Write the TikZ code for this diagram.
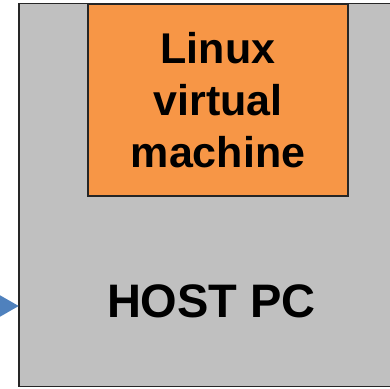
\documentclass[tikz,border=0pt]{standalone}
\usepackage{fontspec}
\setmainfont{Liberation Sans}
\usetikzlibrary{arrows.meta}
\definecolor{hostgray}{RGB}{192,192,192}
\definecolor{vmorange}{RGB}{247,150,70}
\definecolor{arrowblue}{RGB}{79,129,189}
\tikzset{
  box/.style={draw=black!85, line width=1.6pt, inner sep=0pt, outer sep=0pt},
  label/.style={font=\bfseries, text=black, align=center, inner sep=0pt},
  link/.style={draw=arrowblue, line width=6pt, -{Triangle[length=19pt,width=20pt]}}
}
\begin{document}
\begin{tikzpicture}[x=1pt,y=-1pt]
\useasboundingbox (0,0) rectangle (390,388);
\node[box, fill=hostgray, minimum width=391pt, minimum height=383pt] (host) at (214.5,195) {};
\node[box, fill=vmorange, minimum width=260pt, minimum height=191.5pt] (vm) at (218,100.25) {};
\node[label, font=\fontsize{43}{52}\selectfont\bfseries] (vmtext) at (218,100.5) {Linux\\virtual\\machine};
\node[label, font=\fontsize{47}{56}\selectfont\bfseries] (hosttext) at (211.5,301) {HOST PC};
\coordinate (src) at (-40,306);
\draw[link] (src) -- (src -| host.west);
\end{tikzpicture}
\end{document}
